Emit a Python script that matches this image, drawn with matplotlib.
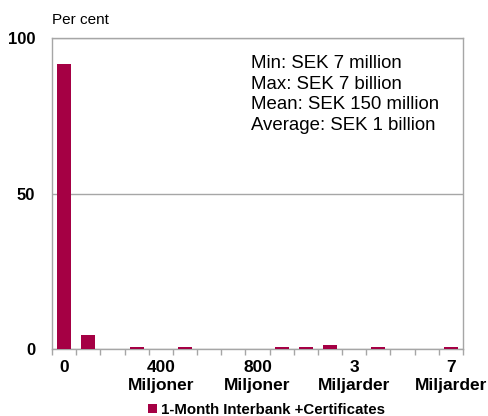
# coding: utf-8
import matplotlib
matplotlib.use("Agg")
import matplotlib.pyplot as plt
import numpy as np

plt.rcParams["font.family"] = ["Liberation Sans", "DejaVu Sans"]

# distribution of loan sizes, per cent of observations
shares = [91.5, 4.5, 0.0, 0.8, 0.0, 0.5, 0.0, 0.0, 0.0, 0.5, 0.5, 1.4, 0.0, 0.8, 0.0, 0.0, 0.5]
label_positions = [0, 4, 8, 12, 16]
label_texts = ["0", "400\nMiljoner", "800\nMiljoner", "3\nMiljarder", "7\nMiljarder"]
y_ticks = [0, 50, 100]
series_name = "1-Month Interbank +Certificates"
stats_lines = ["Min: SEK 7 million", "Max: SEK 7 billion",
               "Mean: SEK 150 million", "Average: SEK 1 billion"]

bar_color = "#A50044"
frame_color = "#A6A6A6"

fig = plt.figure(figsize=(4.89, 4.16), dpi=100)
ax = fig.add_axes([52 / 489, 1 - 349 / 416, 411 / 489, 311 / 416])

x = np.arange(len(shares))
ax.bar(x, shares, width=0.58, color=bar_color, label=series_name, zorder=3)

ax.set_xlim(-0.5, len(shares) - 0.5)
ax.set_ylim(0, 100)

ax.set_yticks(y_ticks)
ax.set_yticklabels([str(v) for v in y_ticks], fontsize=12, fontweight="bold")
ax.tick_params(axis="y", length=0, pad=12)
ax.yaxis.grid(True, color=frame_color, linewidth=1, zorder=0)

ax.set_xticks(np.arange(len(shares) + 1) - 0.5)
ax.set_xticklabels([])
ax.tick_params(axis="x", which="major", length=4, color=frame_color, width=1)
ax.set_xticks(label_positions, minor=True)
ax.set_xticklabels(label_texts, minor=True, fontsize=12.5, fontweight="bold",
                   linespacing=1.2)
ax.tick_params(axis="x", which="minor", length=0, pad=8)

for s in ax.spines.values():
    s.set_color(frame_color)
    s.set_linewidth(1)

fig.text(52 / 489, 1 - 20 / 416, "Per cent", fontsize=11, va="center", ha="left")

ax.text(0.483, 0.945, "\n".join(stats_lines), transform=ax.transAxes,
        fontsize=13.4, va="top", ha="left", linespacing=1.27)

fig.legend(loc="center", bbox_to_anchor=(0.545, 1 - 410 / 416), frameon=False,
           prop={"size": 10.8, "weight": "bold"}, handlelength=0.6, handleheight=0.6,
           handletextpad=0.3, borderaxespad=0)

fig.savefig("out.png", dpi=100)
